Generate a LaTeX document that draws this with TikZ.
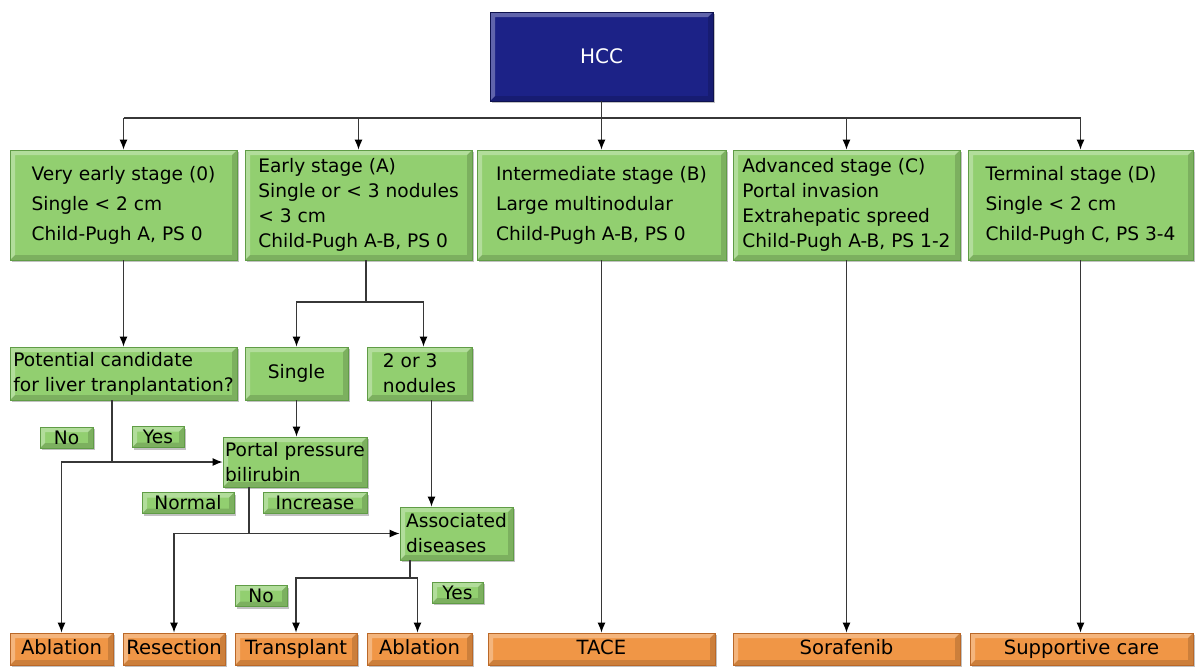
\documentclass[tikz,border=0pt]{standalone}
\usepackage{fontspec}
\setmainfont{DejaVu Sans}
\usetikzlibrary{positioning,arrows.meta,shadows}
\definecolor{stagegreen}{RGB}{146,207,112}
\definecolor{stagegreenline}{RGB}{96,156,70}
\definecolor{therapyorange}{RGB}{240,150,70}
\definecolor{therapyorangeline}{RGB}{186,104,40}
\definecolor{hccblue}{RGB}{28,34,135}
\definecolor{hccblueline}{RGB}{14,18,78}
\definecolor{linkgray}{RGB}{55,55,55}

\begin{document}
\begin{tikzpicture}[x=0.5pt,y=-0.5pt,
  bevel/.style={path picture={
    \fill[white,opacity=0.3] (path picture bounding box.south west) -- (path picture bounding box.north west)
      -- (path picture bounding box.north east) -- ([shift={(-2.5pt,-2.5pt)}]path picture bounding box.north east)
      -- ([shift={(2.5pt,-2.5pt)}]path picture bounding box.north west) -- ([shift={(2.5pt,2.5pt)}]path picture bounding box.south west) -- cycle;
    \fill[black,opacity=0.15] (path picture bounding box.south west) -- (path picture bounding box.south east)
      -- (path picture bounding box.north east) -- ([shift={(-2.5pt,-2.5pt)}]path picture bounding box.north east)
      -- ([shift={(-2.5pt,2.5pt)}]path picture bounding box.south east) -- ([shift={(2.5pt,2.5pt)}]path picture bounding box.south west) -- cycle;}},
  greenbox/.style={draw=stagegreenline,fill=stagegreen,bevel,align=left,inner sep=1pt,
    drop shadow={shadow xshift=1pt,shadow yshift=-1pt,fill=black!60,opacity=0.4},
    font=\fontsize{9.3}{12.5}\selectfont},
  stagebox/.style={greenbox,minimum height=55pt},
  loose/.style={font=\fontsize{9.3}{15}\selectfont},
  choicebox/.style={greenbox,align=center,minimum height=10.5pt,inner sep=0.5pt},
  therapybox/.style={greenbox,draw=therapyorangeline,fill=therapyorange,align=center,
    minimum height=16pt,text height=7.2pt,text depth=2pt,font=\fontsize{9.8}{12}\selectfont},
  link/.style={linkgray,line width=0.6pt},
  arr/.style={link,-{Latex[length=5pt,width=4pt,color=black]}}]
  \useasboundingbox (0,0) rectangle (1198,666);

  \node[greenbox,draw=hccblueline,fill=hccblue,text=white,align=center,
        minimum width=111.5pt,minimum height=44.5pt,font=\fontsize{10}{12}\selectfont] (hcc) at (601.5,56.5) {HCC};

  % stages
  \node[stagebox,loose,minimum width=113.5pt] (s0) at (123.5,205) {Very early stage (0)\\Single < 2 cm\\Child-Pugh A, PS 0};
  \node[stagebox,minimum width=113.5pt] (sA) at (358.5,205) {Early stage (A)\\Single or < 3 nodules\\< 3 cm\\Child-Pugh A-B, PS 0};
  \node[stagebox,loose,minimum width=124.5pt] (sB) at (601.5,205) {Intermediate stage (B)\\Large multinodular\\Child-Pugh A-B, PS 0};
  \node[stagebox,minimum width=113.5pt] (sC) at (846.5,205) {Advanced stage (C)\\Portal invasion\\Extrahepatic spreed\\Child-Pugh A-B, PS 1-2};
  \node[stagebox,loose,minimum width=112.5pt] (sD) at (1080.5,205) {Terminal stage (D)\\Single < 2 cm\\Child-Pugh C, PS 3-4};

  % decisions
  \node[greenbox,minimum width=113.5pt,minimum height=26.5pt] (cand) at (123.5,373.5) {Potential candidate\\for liver tranplantation?};
  \node[greenbox,align=center,minimum width=51.5pt,minimum height=26.5pt] (single) at (296.5,373.5) {Single};
  \node[greenbox,minimum width=52.5pt,minimum height=26.5pt] (nod) at (419.5,373.5) {2 or 3\\nodules};
  \node[greenbox,minimum width=72pt,minimum height=25pt] (portal) at (295,462) {Portal pressure\\bilirubin};
  \node[greenbox,minimum width=56.5pt,minimum height=26.5pt] (assoc) at (456.5,533.5) {Associated\\diseases};

  \node[choicebox,minimum width=26.5pt] (candno) at (66.5,437.5) {No};
  \node[choicebox,minimum width=26pt] (candyes) at (158,437) {Yes};
  \node[choicebox,minimum width=46pt] (normal) at (188,503) {Normal};
  \node[choicebox,minimum width=52pt] (increase) at (315,503) {Increase};
  \node[choicebox,minimum width=26pt] (assocno) at (261,596) {No};
  \node[choicebox,minimum width=25.5pt] (assocyes) at (457.5,592.5) {Yes};

  % treatments
  \node[therapybox,minimum width=51.5pt] (abl1) at (61.5,649) {Ablation};
  \node[therapybox,minimum width=51pt] (resect) at (174,649) {Resection};
  \node[therapybox,minimum width=61pt] (transp) at (296,649) {Transplant};
  \node[therapybox,minimum width=52.5pt] (abl2) at (419.5,649) {Ablation};
  \node[therapybox,minimum width=113.5pt] (tace) at (601.5,649) {TACE};
  \node[therapybox,minimum width=113.5pt] (sora) at (846.5,649) {Sorafenib};
  \node[therapybox,minimum width=111.5pt] (supp) at (1081.5,649) {Supportive care};

  % connectors
  \coordinate (bus) at (601.5,118);
  \draw[link] (hcc) -- (bus);
  \draw[link] (s0.north |- bus) -- (sD.north |- bus);
  \foreach \s in {s0,sA,sB,sC,sD}
    \draw[arr] (\s.north |- bus) -- (\s.north);

  \draw[arr] (s0.south) -- (cand.north);
  \coordinate (afork) at (366,302);
  \draw[link] (sA.south -| afork) -- (afork);
  \draw[arr] (afork) -| (single.north);
  \draw[arr] (afork) -| ([xshift=2pt]nod.north);

  \coordinate (cfork) at (112,462);
  \draw[arr] (cand.south -| cfork) -- (cfork) -- (portal.west);
  \draw[arr] (cfork) -| (abl1.north);

  \draw[arr] (single.south) -- (single.south |- portal.north);
  \draw[arr] ([xshift=6pt]nod.south) -- ([xshift=6pt]nod.south |- assoc.north);

  \coordinate (pfork) at (249,533.5);
  \draw[arr] (portal.south -| pfork) -- (pfork) -- (assoc.west);
  \draw[arr] (pfork) -| (resect.north);

  \coordinate (dfork) at (410,578);
  \draw[link] (assoc.south -| dfork) -- (dfork);
  \draw[arr] (dfork) -| (transp.north);
  \draw[arr] (dfork) -| ([xshift=-1pt]abl2.north);

  \foreach \s/\t in {sB/tace,sC/sora,sD/supp}
    \draw[arr] (\s.south) -- (\s.south |- \t.north);
\end{tikzpicture}
\end{document}
